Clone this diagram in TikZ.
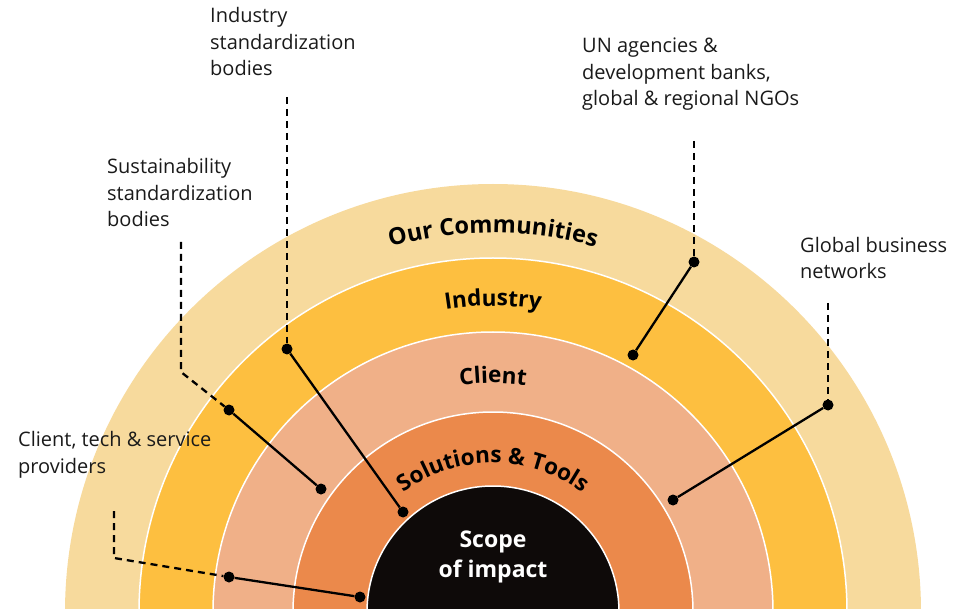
\documentclass[tikz,border=0pt]{standalone}
\usepackage{fontspec}
\setmainfont{Open Sans}
\usetikzlibrary{decorations.text}
\definecolor{cOuter}{HTML}{F7DA9D}
\definecolor{cInd}{HTML}{FDBF40}
\definecolor{cCli}{HTML}{F0B088}
\definecolor{cSol}{HTML}{EB894B}
\definecolor{cCore}{HTML}{0E0A09}
\definecolor{cTxt}{HTML}{1A1A1A}
\newcommand\ringfont{\bfseries\fontsize{22.5}{22.5}\selectfont}
\newcommand\ringfontbig{\bfseries\fontsize{23.5}{23.5}\selectfont}
\begin{document}
\begin{tikzpicture}[x=1pt,y=1pt,
  dot/.style={circle,fill=black,inner sep=0pt,minimum size=11pt},
  link/.style={line width=2.3pt,black},
  dashline/.style={line width=2.3pt,black,dash pattern=on 7pt off 5pt},
  lbl/.style={anchor=base west,align=left,inner sep=0pt,text=cTxt,
    font=\fontsize{20}{26.5}\selectfont},
  sep/.style={white,line width=1.5pt}
]
\useasboundingbox (0,0) rectangle (957,608);
\begin{scope}
\clip (0,0) rectangle (957,608);
\fill[cOuter] (493,-4) circle (428);
\fill[cInd] (493,-4) circle (354);
\draw[sep] (493,-4) circle (354);
\fill[cCli] (493,-4) circle (280);
\draw[sep] (493,-4) circle (280);
\fill[cSol] (493,-4) circle (200);
\draw[sep] (493,-4) circle (200);
\fill[cCore] (493,-4) circle (126);
\draw[sep] (493,-4) circle (126);
\end{scope}

% ring labels
\path[decorate,decoration={text along path,text align=center,
  text={|\ringfontbig|Our Communities}}] (114,-4) arc (180:0:379);
\path[decorate,decoration={text along path,text align=center,
  text={|\ringfont|Industry}}] (187,-4) arc (180:0:306);
\path[decorate,decoration={text along path,text align=center,
  text={|\ringfont|Client}}] (264,-4) arc (180:0:229);
\path[decorate,decoration={text along path,text align=center,
  text={|\ringfont|Solutions {\&} Tools}}] (344,-4) arc (180:0:149);
\node[align=center,text=white,font=\bfseries\fontsize{23}{30}\selectfont]
  (scope) at (493,51) {Scope\\of impact};

% outer labels (anchor = baseline of last line)
\node[lbl] (lIndStd) at (210,532) {Industry\\standardization\\bodies};
\node[lbl] (lSusStd) at (107,381) {Sustainability\\standardization\\bodies};
\node[lbl] (lClient) at (18,135) {Client, tech \& service\\providers};
\node[lbl] (lUN) at (582,502) {UN agencies \&\\development banks,\\global \& regional NGOs};
\node[lbl] (lGlobal) at (800,329) {Global business\\networks};

% dots
\node[dot] (a1) at (287,259) {};
\node[dot] (b1) at (403,96) {};
\node[dot] (a2) at (229,198) {};
\node[dot] (b2) at (321,119) {};
\node[dot] (a3) at (229,31) {};
\node[dot] (b3) at (360,11) {};
\node[dot] (a4) at (694,346) {};
\node[dot] (b4) at (633,253) {};
\node[dot] (a5) at (828,203) {};
\node[dot] (b5) at (673,108) {};

% dashed leaders
\coordinate (t1) at (287,511);
\coordinate (t2) at (181,366);
\coordinate (k2) at (181,236);
\coordinate (t3) at (114,97);
\coordinate (k3) at (114,50);
\coordinate (t4) at (694,467);
\coordinate (t5) at (828,305);
\draw[dashline] (t1) -- (a1);
\draw[dashline] (t2) -- (k2) -- (a2);
\draw[dashline] (t3) -- (k3) -- (a3);
\draw[dashline] (t4) -- (a4);
\draw[dashline] (t5) -- (a5);

% solid links
\draw[link] (a1) -- (b1);
\draw[link] (a2) -- (b2);
\draw[link] (a3) -- (b3);
\draw[link] (a4) -- (b4);
\draw[link] (a5) -- (b5);
\end{tikzpicture}
\end{document}
